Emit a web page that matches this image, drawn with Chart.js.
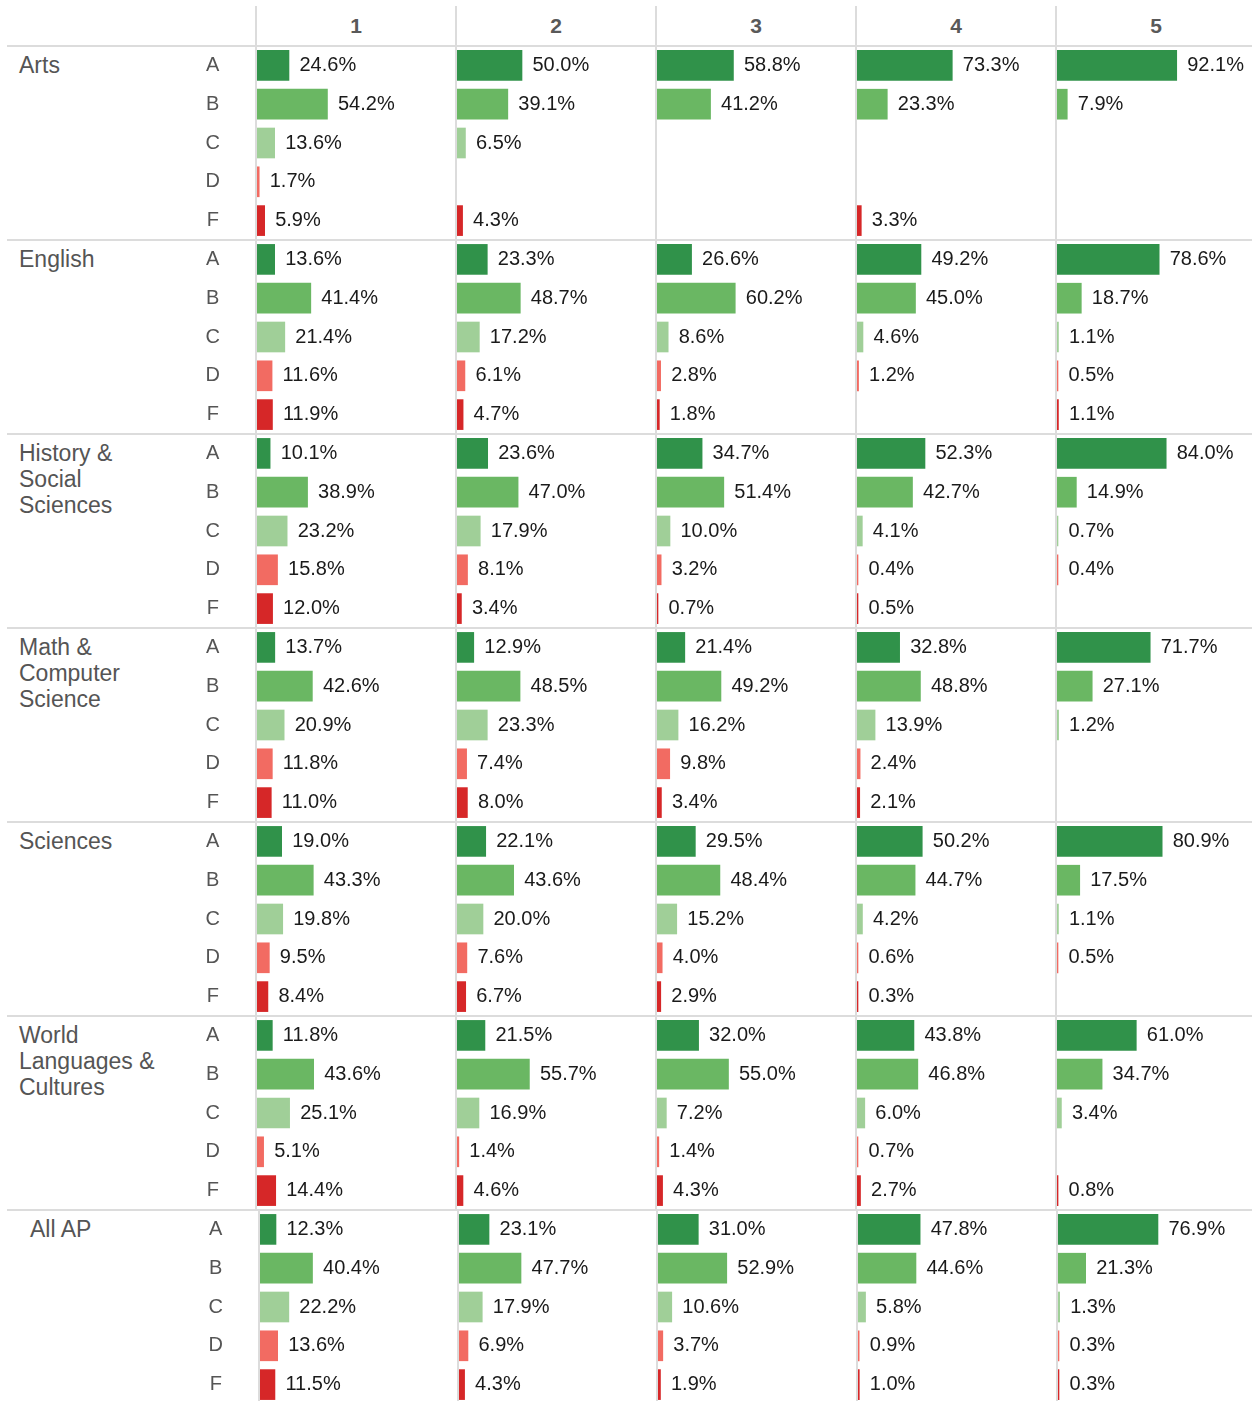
<!DOCTYPE html>
<html><head><meta charset="utf-8">
<script src="https://cdn.jsdelivr.net/npm/chart.js@4.4.1/dist/chart.umd.min.js"></script>
<style>
html,body{margin:0;padding:0;background:#fff;overflow:hidden;}
#root{position:relative;width:1252px;height:1401px;overflow:hidden;font-family:Arial,"Liberation Sans",sans-serif;}
.hl{position:absolute;height:2px;background:#dcdcdc;}
.vl{position:absolute;width:2px;background:#dcdcdc;}
.hdr{position:absolute;top:15px;width:200px;text-align:center;font-size:21px;line-height:22px;font-weight:bold;color:#595959;}
.grp{position:absolute;font-size:23px;line-height:26px;color:#555;white-space:pre-line;}
.cv{position:absolute;}
</style></head><body><div id="root"></div>
<script>
// ---------- data ----------
const scores = ['1', '2', '3', '4', '5'];
const grades = ['A', 'B', 'C', 'D', 'F'];
const groupLabels = ['Arts', 'English', 'History &\nSocial\nSciences', 'Math &\nComputer\nScience', 'Sciences', 'World\nLanguages &\nCultures', 'All AP'];
// one row per AP score (1..5), values for grades A,B,C,D,F in %; null = no bar
const artsValues = [
  [24.6, 54.2, 13.6, 1.7, 5.9],
  [50.0, 39.1, 6.5, null, 4.3],
  [58.8, 41.2, null, null, null],
  [73.3, 23.3, null, null, 3.3],
  [92.1, 7.9, null, null, null]
];
const englishValues = [
  [13.6, 41.4, 21.4, 11.6, 11.9],
  [23.3, 48.7, 17.2, 6.1, 4.7],
  [26.6, 60.2, 8.6, 2.8, 1.8],
  [49.2, 45.0, 4.6, 1.2, null],
  [78.6, 18.7, 1.1, 0.5, 1.1]
];
const historyValues = [
  [10.1, 38.9, 23.2, 15.8, 12.0],
  [23.6, 47.0, 17.9, 8.1, 3.4],
  [34.7, 51.4, 10.0, 3.2, 0.7],
  [52.3, 42.7, 4.1, 0.4, 0.5],
  [84.0, 14.9, 0.7, 0.4, null]
];
const mathValues = [
  [13.7, 42.6, 20.9, 11.8, 11.0],
  [12.9, 48.5, 23.3, 7.4, 8.0],
  [21.4, 49.2, 16.2, 9.8, 3.4],
  [32.8, 48.8, 13.9, 2.4, 2.1],
  [71.7, 27.1, 1.2, null, null]
];
const sciencesValues = [
  [19.0, 43.3, 19.8, 9.5, 8.4],
  [22.1, 43.6, 20.0, 7.6, 6.7],
  [29.5, 48.4, 15.2, 4.0, 2.9],
  [50.2, 44.7, 4.2, 0.6, 0.3],
  [80.9, 17.5, 1.1, 0.5, null]
];
const worldLangValues = [
  [11.8, 43.6, 25.1, 5.1, 14.4],
  [21.5, 55.7, 16.9, 1.4, 4.6],
  [32.0, 55.0, 7.2, 1.4, 4.3],
  [43.8, 46.8, 6.0, 0.7, 2.7],
  [61.0, 34.7, 3.4, null, 0.8]
];
const allApValues = [
  [12.3, 40.4, 22.2, 13.6, 11.5],
  [23.1, 47.7, 17.9, 6.9, 4.3],
  [31.0, 52.9, 10.6, 3.7, 1.9],
  [47.8, 44.6, 5.8, 0.9, 1.0],
  [76.9, 21.3, 1.3, 0.3, 0.3]
];
const gradeColors = ['#30924a', '#6ab763', '#a0cf98', '#f26b62', '#d62728'];

// ---------- layout ----------
const groupValues = [artsValues, englishValues, historyValues, mathValues, sciencesValues, worldLangValues, allApValues];
const TOP = 46, GROUP_H = 194, COL0 = 257, COL_W = 200, PLOT_W = 198, PX_PER_PCT = 1.3;
const allApShift = [3, 2, 1, 1, 1];
const root = document.getElementById('root');

Chart.defaults.font.family = 'Arial, "Liberation Sans", sans-serif';

function addDiv(cls, style, text) {
  const d = document.createElement('div');
  d.className = cls;
  Object.assign(d.style, style);
  if (text != null) d.textContent = text;
  root.appendChild(d);
  return d;
}

// grid lines
for (let g = 0; g <= 6; g++) {
  addDiv('hl', { left: '7px', width: '1245px', top: (TOP - 1 + g * GROUP_H) + 'px' });
}
for (let j = 0; j < 5; j++) {
  const x = COL0 - 2 + j * COL_W;
  addDiv('vl', { left: x + 'px', top: '6px', height: (TOP + 6 * GROUP_H - 6) + 'px' });
  addDiv('vl', { left: (x + allApShift[j]) + 'px', top: (TOP + 6 * GROUP_H) + 'px', height: '200px' });
}
// headers
scores.forEach((s, j) => addDiv('hdr', { left: (COL0 - 1 + j * COL_W) + 'px' }, s));
// group labels
groupLabels.forEach((lab, g) => {
  addDiv('grp', { left: (g === 6 ? 30 : 19) + 'px', top: (TOP + g * GROUP_H + 6) + 'px' }, lab);
});

const valueLabels = {
  id: 'valueLabels',
  afterDatasetsDraw(chart) {
    const ctx = chart.ctx;
    const ds = chart.data.datasets[0];
    const meta = chart.getDatasetMeta(0);
    ctx.save();
    ctx.font = '20px Arial, "Liberation Sans", sans-serif';
    ctx.fillStyle = '#1a1a1a';
    ctx.textAlign = 'left';
    ctx.textBaseline = 'alphabetic';
    meta.data.forEach((bar, i) => {
      const v = ds.data[i];
      if (v == null) return;
      ctx.fillText(v.toFixed(1) + '%', bar.x + 10.5, bar.y + 5.5);
    });
    ctx.restore();
  }
};

function makeChart(left, top, height, labels, values, showAxis, axisW) {
  const width = PLOT_W + (showAxis ? axisW : 0);
  const wrap = addDiv('cv', { left: (showAxis ? 0 : left) + 'px', top: top + 'px', width: width + 'px', height: height + 'px' });
  const cv = document.createElement('canvas');
  cv.width = width; cv.height = height;
  cv.style.width = width + 'px'; cv.style.height = height + 'px';
  wrap.appendChild(cv);
  new Chart(cv, {
    type: 'bar',
    data: {
      labels: labels,
      datasets: [{
        data: values,
        backgroundColor: labels.map((l, i) => gradeColors[i % 5]),
        barThickness: 30,
        minBarLength: 1,
        borderWidth: 0
      }]
    },
    options: {
      indexAxis: 'y',
      responsive: false,
      animation: false,
      devicePixelRatio: 1,
      layout: { padding: 0 },
      plugins: { legend: { display: false }, tooltip: { enabled: false } },
      scales: {
        x: { type: 'linear', min: 0, max: PLOT_W / PX_PER_PCT, display: false },
        y: {
          type: 'category',
          display: showAxis,
          grid: { display: false, drawTicks: false },
          border: { display: false },
          ticks: { autoSkip: false, crossAlign: 'center', padding: 37, color: '#555', font: { size: 20 } },
          afterFit: (s) => {
            if (showAxis) { s.width = axisW; }
            s.paddingTop = 0; s.paddingBottom = 0;
          }
        }
      }
    },
    plugins: [valueLabels]
  });
}

for (let j = 0; j < 5; j++) {
  // first six groups
  const labels = [], vals = [];
  for (let g = 0; g < 6; g++) {
    grades.forEach((gr, k) => { labels.push(gr); vals.push(groupValues[g][j][k]); });
  }
  makeChart(COL0 + j * COL_W, TOP, 6 * GROUP_H, labels, vals, j === 0, COL0);
  // All AP
  makeChart(COL0 + j * COL_W + allApShift[j], TOP + 6 * GROUP_H, GROUP_H, grades.slice(), allApValues[j].slice(), j === 0, COL0 + allApShift[0]);
}
</script></body></html>
